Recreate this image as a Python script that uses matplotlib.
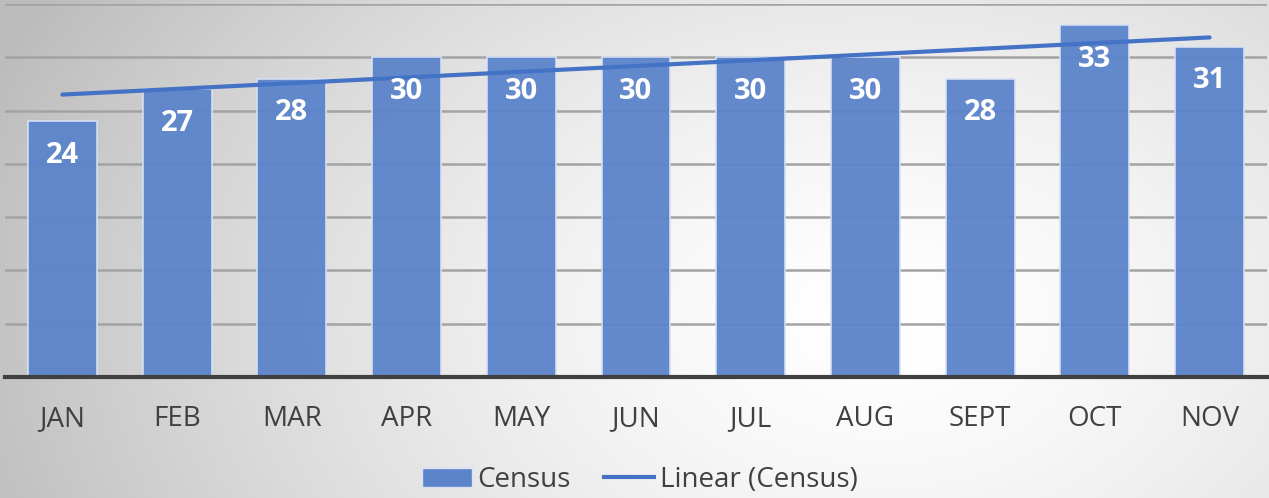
import numpy as np
import matplotlib.pyplot as plt
from matplotlib.patches import Patch
from matplotlib.lines import Line2D

# data
months = ['JAN', 'FEB', 'MAR', 'APR', 'MAY', 'JUN', 'JUL', 'AUG', 'SEPT', 'OCT', 'NOV']
census = [24, 27, 28, 30, 30, 30, 30, 30, 28, 33, 31]

bar_color = '#5B84CA'
line_color = '#4472C4'
text_color = '#404040'

plt.rcParams['font.family'] = ['Open Sans', 'DejaVu Sans']

fig = plt.figure(figsize=(12.69, 4.98), dpi=100)

# radial gray-to-white background
bg = fig.add_axes([0, 0, 1, 1], zorder=-10)
W, H = 1269, 498
yy, xx = np.mgrid[0:H, 0:W]
r = np.sqrt(((xx - 880) / 950.0) ** 2 + ((yy - 320) / 650.0) ** 2)
shade = 1.0 - 0.26 * np.clip(r, 0, 1) ** 1.5
bg.imshow(np.dstack([shade] * 3), aspect='auto', extent=[0, 1, 0, 1], origin='upper')
bg.axis('off')

ax = fig.add_axes([5 / W, 1 - 377 / H, 1262 / W, 373 / H])
ax.set_facecolor('none')

x = np.arange(len(months))
bars = ax.bar(x, census, width=0.6, color=bar_color, alpha=0.95,
              edgecolor='#D8E2F4', linewidth=1.2, zorder=2)

# linear trendline
slope, intercept = np.polyfit(x, census, 1)
ax.plot(x, slope * x + intercept, color=line_color, lw=3, solid_capstyle='round', zorder=4)

for xi, v in zip(x, census):
    ax.text(xi, v - 3.2, str(v), ha='center', va='center', color='white',
            fontsize=21, fontweight='bold', zorder=5)

ax.set_xlim(-0.5, len(months) - 0.5)
ax.set_ylim(0, 35)
ax.set_yticks(np.arange(0, 36, 5))
ax.yaxis.grid(True, color='#A3A3A3', lw=1.8, zorder=0)
ax.set_axisbelow(True)
ax.tick_params(axis='y', left=False, labelleft=False)
ax.tick_params(axis='x', length=0, pad=20, labelsize=20, labelcolor=text_color)
ax.set_xticks(x)
ax.set_xticklabels(months)
for s in ['top', 'right', 'left']:
    ax.spines[s].set_visible(False)
ax.spines['bottom'].set_color('#404040')
ax.spines['bottom'].set_linewidth(3)
ax.spines['bottom'].set_zorder(6)

handles = [Patch(facecolor=bar_color, edgecolor='#D8E2F4'),
           Line2D([0], [0], color=line_color, lw=3)]
fig.legend(handles, ['Census', 'Linear (Census)'], loc='center', bbox_to_anchor=(0.504, 0.036),
           ncol=2, frameon=False, fontsize=20, labelcolor=text_color,
           handlelength=1.8, handletextpad=0.2, columnspacing=1.2)

fig.savefig('out.png', dpi=100)
